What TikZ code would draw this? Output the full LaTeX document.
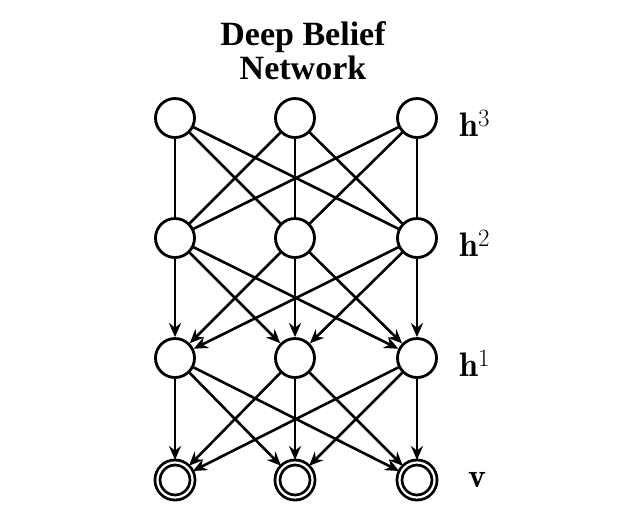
\documentclass[tikz,border=0pt]{standalone}
\usepackage{fontspec}
\newfontfamily\titlefont{Liberation Serif}
\usetikzlibrary{arrows.meta}
\begin{document}
\begin{tikzpicture}[x=1pt,y=-1pt,
  unit/.style={circle,draw,line width=2.8pt,minimum size=39pt,inner sep=0pt},
  visible/.style={circle,draw,line width=2.8pt,double=white,double distance=2.2pt,minimum size=35pt,inner sep=0pt,outer sep=2.5pt},
  link/.style={line width=2.6pt},
  arr/.style={line width=2.6pt,-{Stealth[length=14pt,width=12pt]}},
  lab/.style={font=\fontsize{34}{36}\selectfont,anchor=base west,inner sep=0pt},
  ttl/.style={font=\titlefont\bfseries\fontsize{34}{34}\selectfont,align=center}]
\useasboundingbox (0,0) rectangle (627,531);
\node[ttl] (title) at (303,51) {Deep Belief\\Network};
\foreach \i/\x in {1/175,2/295,3/417}{
  \node[unit] (a\i) at (\x,118) {};
  \node[unit] (b\i) at (\x,238) {};
  \node[unit] (c\i) at (\x,358) {};
  \node[visible] (d\i) at (\x,480) {};
}
\foreach \i in {1,2,3}{
  \foreach \j in {1,2,3}{
    \draw[link] (a\i) -- (b\j);
    \draw[arr] (b\i) -- (c\j);
    \draw[arr] (c\i) -- (d\j);
  }
}
\node[lab] (l3) at (459,136) {$\mathbf{h}^3$};
\node[lab] (l2) at (459,256) {$\mathbf{h}^2$};
\node[lab] (l1) at (459,376) {$\mathbf{h}^1$};
\node[lab] (l0) at (468,487) {$\mathbf{v}$};
\end{tikzpicture}
\end{document}
